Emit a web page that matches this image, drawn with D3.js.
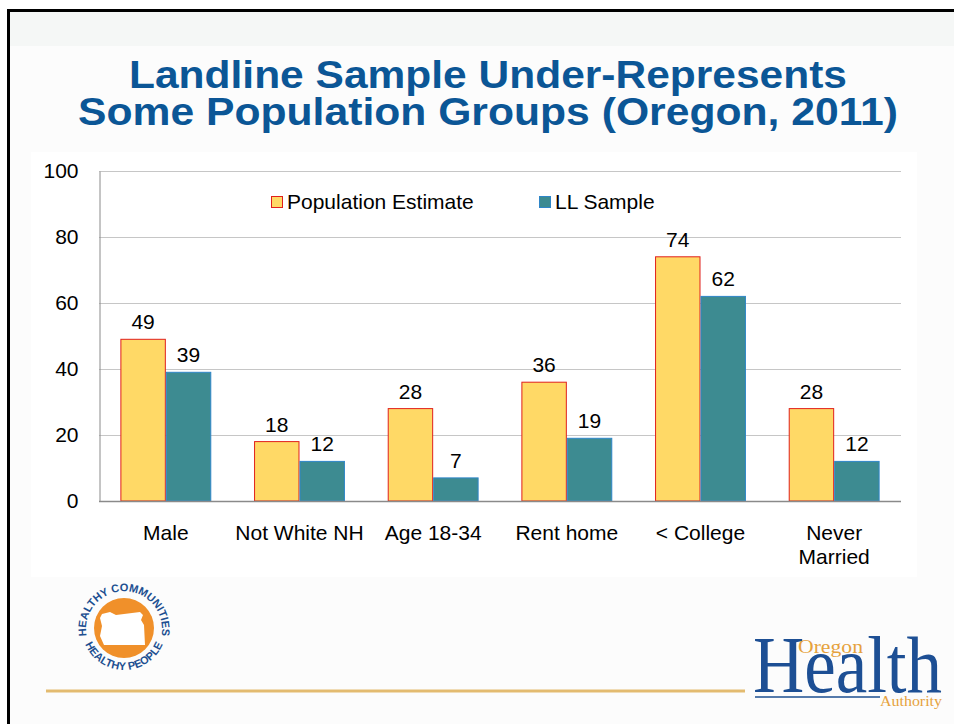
<!DOCTYPE html>
<html>
<head>
<meta charset="utf-8">
<script src="https://cdn.jsdelivr.net/npm/d3@7"></script>
<style>
  html, body { margin: 0; padding: 0; background: #ffffff; }
  svg { display: block; font-family: "Liberation Sans", Arial, sans-serif; }
</style>
</head>
<body>
<svg id="chart" width="954" height="724"></svg>
<script>
// ---------- data ----------
const titleLines = ["Landline Sample Under-Represents", "Some Population Groups (Oregon, 2011)"];
const categories = ["Male", "Not White NH", "Age 18-34", "Rent home", "< College", "Never Married"];
const seriesNames = ["Population Estimate", "LL Sample"];
const populationEstimate = [49, 18, 28, 36, 74, 28];
const llSample = [39, 12, 7, 19, 62, 12];
const yTicks = [0, 20, 40, 60, 80, 100];

// ---------- styles ----------
const fills = ["#ffd966", "#3d8b91"];
const strokes = ["#e0201c", "#2f86c8"];
const titleColor = "#0b5696";
const sans = "'Liberation Sans', Arial, sans-serif";
const serif = "'Liberation Serif', 'Times New Roman', serif";

const svg = d3.select("#chart");

// slide background
svg.append("rect").attr("x", 0).attr("y", 0).attr("width", 954).attr("height", 724).attr("fill", "#ffffff");
svg.append("rect").attr("x", 8).attr("y", 10).attr("width", 946).attr("height", 714).attr("fill", "#fcfcfc");
svg.append("rect").attr("x", 8).attr("y", 10).attr("width", 946).attr("height", 36).attr("fill", "#f5f7f6");
// black frame (top + left)
svg.append("line").attr("x1", 8.5).attr("y1", 10).attr("x2", 8.5).attr("y2", 724).attr("stroke", "#000").attr("stroke-width", 3);
svg.append("line").attr("x1", 7).attr("y1", 10.5).attr("x2", 954).attr("y2", 10.5).attr("stroke", "#000").attr("stroke-width", 3);

// title
const titleWidths = [718, 820];
const titleBaselines = [88, 125];
svg.selectAll("text.title").data(titleLines).enter().append("text")
  .attr("class", "title")
  .attr("x", 488).attr("y", (d, i) => titleBaselines[i])
  .attr("text-anchor", "middle")
  .style("font-family", sans)
  .attr("font-size", 38).attr("font-weight", "bold")
  .attr("fill", titleColor)
  .attr("textLength", (d, i) => titleWidths[i])
  .attr("lengthAdjust", "spacingAndGlyphs")
  .text(d => d);

// chart area
svg.append("rect").attr("x", 31).attr("y", 152).attr("width", 886).attr("height", 425).attr("fill", "#ffffff");

const plot = { left: 99, right: 901, top: 171, bottom: 501 };

const y = d3.scaleLinear().domain([0, 100]).range([plot.bottom, plot.top]);
const x = d3.scaleBand().domain(categories).range([plot.left, plot.right])
  .paddingInner(0.32).paddingOuter(0.16);
const xs = d3.scaleBand().domain(seriesNames).range([0, x.bandwidth()]).padding(0);

// gridlines
svg.append("g").selectAll("line").data(yTicks.filter(t => t > 0)).enter().append("line")
  .attr("x1", plot.left).attr("x2", plot.right)
  .attr("y1", d => Math.round(y(d)) + 0.5).attr("y2", d => Math.round(y(d)) + 0.5)
  .attr("stroke", "#c6c6c6").attr("stroke-width", 1);

// y axis
const yAxis = svg.append("g").attr("transform", `translate(${plot.left + 0.5},0)`)
  .call(d3.axisLeft(y).tickValues(yTicks).tickSize(0).tickPadding(21));
yAxis.select(".domain").attr("stroke", "#8a8a8a");
yAxis.selectAll("text").attr("font-size", 21).attr("fill", "#000")
  .style("font-family", sans);

// bars
const seriesValues = [populationEstimate, llSample];
const groups = svg.append("g").selectAll("g").data(categories).enter().append("g")
  .attr("transform", d => `translate(${x(d)},0)`);

groups.each(function(cat, ci) {
  const g = d3.select(this);
  seriesNames.forEach((s, si) => {
    const v = seriesValues[si][ci];
    g.append("rect")
      .attr("x", xs(s) + 0.5).attr("y", y(v))
      .attr("width", xs.bandwidth() - 1).attr("height", y(0) - y(v))
      .attr("fill", fills[si]).attr("stroke", strokes[si]).attr("stroke-width", 1);
    g.append("text")
      .attr("x", xs(s) + xs.bandwidth() / 2).attr("y", y(v) - 10)
      .attr("text-anchor", "middle").attr("font-size", 21).attr("fill", "#000")
      .text(v);
  });
});

// x baseline
svg.append("line").attr("x1", plot.left).attr("x2", plot.right)
  .attr("y1", plot.bottom + 0.5).attr("y2", plot.bottom + 0.5)
  .attr("stroke", "#8a8a8a").attr("stroke-width", 1.5);

// category labels (wrapped when wider than band step)
const catLabels = svg.append("g").selectAll("text").data(categories).enter().append("text")
  .attr("x", d => x(d) + x.bandwidth() / 2).attr("y", 540)
  .attr("text-anchor", "middle").attr("font-size", 21).attr("fill", "#000")
  .text(d => d);
catLabels.each(function(d) {
  const t = d3.select(this);
  if (this.getComputedTextLength() > x.step() * 0.97) {
    const words = d.split(" ");
    const cx = x(d) + x.bandwidth() / 2;
    t.text(null);
    words.forEach((w, i) => {
      t.append("tspan").attr("x", cx).attr("dy", i === 0 ? 0 : 24).text(w);
    });
  }
});

// legend
const legendX = [271, 539];
const legend = svg.append("g").selectAll("g").data(seriesNames).enter().append("g")
  .attr("transform", (d, i) => `translate(${legendX[i]},196)`);
legend.append("rect").attr("x", 0.5).attr("y", 0.5).attr("width", 11).attr("height", 11)
  .attr("fill", (d, i) => fills[i]).attr("stroke", (d, i) => strokes[i]).attr("stroke-width", 1);
legend.append("text").attr("x", 16).attr("y", 13).attr("font-size", 21).attr("fill", "#000").text(d => d);

// ---------- footer: logos ----------
// gold rule
svg.append("line").attr("x1", 46).attr("x2", 745).attr("y1", 691).attr("y2", 691)
  .attr("stroke", "#e3bb70").attr("stroke-width", 3);

// Healthy Communities / Healthy People logo
const lc = { x: 124, y: 628 };
const logo = svg.append("g").attr("transform", `translate(${lc.x},${lc.y})`);
logo.append("circle").attr("r", 30).attr("fill", "#f0902a");
const oregon = [[-22,-14],[-14,-16],[-8,-13],[0,-14],[8,-15],[16,-16],[19,-13],[17,-8],[20,-3],[21,17],[-20,17],[-24,8],[-22,-2],[-24,-10]];
logo.append("path").attr("d", d3.line()(oregon) + "Z").attr("fill", "#ffffff");
const defs = svg.append("defs");
defs.append("path").attr("id", "arcTop")
  .attr("d", "M -35 16 A 38 38 0 1 1 35 16");
defs.append("path").attr("id", "arcBot")
  .attr("d", "M -42 0 A 42 42 0 0 0 42 0");
logo.append("text").attr("font-size", 11).attr("font-weight", "bold").attr("fill", "#1d4f91")
  .style("font-family", sans)
  .append("textPath").attr("href", "#arcTop").attr("startOffset", "50%").attr("text-anchor", "middle")
  .text("HEALTHY COMMUNITIES");
logo.append("text").attr("font-size", 11).attr("font-weight", "bold").attr("fill", "#1d4f91")
  .style("font-family", sans)
  .append("textPath").attr("href", "#arcBot").attr("startOffset", "50%").attr("text-anchor", "middle")
  .text("HEALTHY PEOPLE");

// Oregon Health Authority logo
svg.append("line").attr("x1", 755).attr("x2", 880).attr("y1", 697).attr("y2", 697)
  .attr("stroke", "#1d4f91").attr("stroke-width", 1.5);
svg.append("text").attr("x", 753).attr("y", 692).style("font-family", serif).attr("font-size", 80)
  .attr("fill", "#1d4f94").attr("textLength", 189).attr("lengthAdjust", "spacingAndGlyphs").text("Health");
svg.append("text").attr("x", 798).attr("y", 653).style("font-family", serif).attr("font-size", 19)
  .attr("fill", "#e6a23c").attr("textLength", 65).attr("lengthAdjust", "spacingAndGlyphs").text("Oregon");
svg.append("text").attr("x", 880).attr("y", 706).style("font-family", serif).attr("font-size", 15)
  .attr("fill", "#e6a23c").attr("textLength", 62).attr("lengthAdjust", "spacingAndGlyphs").text("Authority");
</script>
</body>
</html>
